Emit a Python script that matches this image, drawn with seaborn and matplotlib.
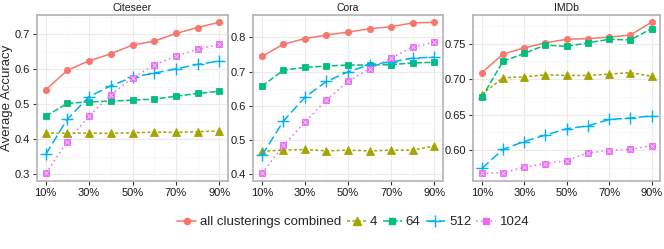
'''
Faceted accuracy curves per dataset, ggplot-ish look
'''
import matplotlib
matplotlib.use('Agg')
import matplotlib.pyplot as plt
from matplotlib.ticker import MultipleLocator, FormatStrFormatter
from matplotlib.lines import Line2D
import seaborn as sns
import pandas as pd

fractions = [10, 20, 30, 40, 50, 60, 70, 80, 90]
series_names = ['all clusterings combined', '4', '64', '512', '1024']
datasets = ['Citeseer', 'Cora', 'IMDb']

citeseer_all = [0.541, 0.597, 0.624, 0.644, 0.669, 0.680, 0.702, 0.719, 0.734]
citeseer_4 = [0.418, 0.418, 0.418, 0.417, 0.419, 0.421, 0.420, 0.422, 0.424]
citeseer_64 = [0.466, 0.503, 0.507, 0.509, 0.512, 0.515, 0.523, 0.531, 0.537]
citeseer_512 = [0.357, 0.458, 0.522, 0.553, 0.577, 0.589, 0.601, 0.614, 0.623]
citeseer_1024 = [0.303, 0.394, 0.467, 0.527, 0.575, 0.612, 0.637, 0.657, 0.671]

cora_all = [0.744, 0.780, 0.796, 0.807, 0.815, 0.825, 0.831, 0.842, 0.844]
cora_4 = [0.467, 0.470, 0.472, 0.468, 0.470, 0.468, 0.470, 0.470, 0.482]
cora_64 = [0.657, 0.704, 0.712, 0.716, 0.719, 0.719, 0.720, 0.725, 0.727]
cora_512 = [0.455, 0.555, 0.625, 0.671, 0.699, 0.720, 0.728, 0.739, 0.742]
cora_1024 = [0.402, 0.484, 0.552, 0.617, 0.671, 0.708, 0.739, 0.772, 0.785]

imdb_all = [0.709, 0.735, 0.744, 0.751, 0.756, 0.757, 0.759, 0.762, 0.780]
imdb_4 = [0.678, 0.702, 0.703, 0.706, 0.705, 0.705, 0.707, 0.709, 0.704]
imdb_64 = [0.674, 0.725, 0.736, 0.748, 0.746, 0.751, 0.756, 0.755, 0.771]
imdb_512 = [0.574, 0.601, 0.612, 0.621, 0.630, 0.634, 0.643, 0.645, 0.648]
imdb_1024 = [0.567, 0.568, 0.5755, 0.581, 0.585, 0.596, 0.599, 0.601, 0.606]

values = {
    'Citeseer': [citeseer_all, citeseer_4, citeseer_64, citeseer_512, citeseer_1024],
    'Cora': [cora_all, cora_4, cora_64, cora_512, cora_1024],
    'IMDb': [imdb_all, imdb_4, imdb_64, imdb_512, imdb_1024],
}

rows = []
for ds in datasets:
    for name, vals in zip(series_names, values[ds]):
        for f, v in zip(fractions, vals):
            rows.append({'dataset': ds, 'series': name, 'fraction': f, 'acc': v})
df = pd.DataFrame(rows)

colors = ['#F8766D', '#A3A500', '#00BF7D', '#00B0F6', '#E76BF3']
palette = dict(zip(series_names, colors))
markers = dict(zip(series_names, ['o', '^', 's', '+', 's']))
msizes = dict(zip(series_names, [4.5, 5.5, 5, 8, 5]))
dashes = dict(zip(series_names, ['-', (0, (2, 1.5)), (0, (4, 1.5)), (0, (6, 2.5)), (0, (1, 2.2))]))

sns.set_theme(style='white')
plt.rcParams['font.family'] = ['Liberation Sans', 'DejaVu Sans']

fig = plt.figure(figsize=(6.64, 2.49), dpi=100)
lefts = [37, 253.3, 473.3]
rights = [228, 442.7, 660]
bottom = 1 - 181 / 249
top = 1 - 14.7 / 249
yticks_step = {'Citeseer': 0.1, 'Cora': 0.1, 'IMDb': 0.05}
yfmt = {'Citeseer': '%.1f', 'Cora': '%.1f', 'IMDb': '%.2f'}

for i, ds in enumerate(datasets):
    ax = fig.add_axes([lefts[i] / 664, bottom, (rights[i] - lefts[i]) / 664, top - bottom])
    sub = df[df['dataset'] == ds]
    for name in series_names:
        s = sub[sub['series'] == name]
        sns.lineplot(data=s, x='fraction', y='acc', color=palette[name],
                     marker=markers[name], linestyle=dashes[name], ax=ax,
                     linewidth=1.1, markersize=msizes[name],
                     markeredgewidth=1.0 if markers[name] == '+' else 0.6,
                     markeredgecolor=palette[name])
    # cross inside the 1024 squares
    pink = sub[sub['series'] == '1024']
    sns.scatterplot(data=pink, x='fraction', y='acc', marker='x', s=9,
                    color='white', linewidth=0.6, ax=ax, zorder=5, alpha=0.7)
    ax.set_xlim(6, 94)
    ax.set_xticks([10, 30, 50, 70, 90])
    ax.set_xticklabels(['10%', '30%', '50%', '70%', '90%'])
    ax.xaxis.set_minor_locator(MultipleLocator(10))
    ax.yaxis.set_major_locator(MultipleLocator(yticks_step[ds]))
    ax.yaxis.set_minor_locator(MultipleLocator(yticks_step[ds] / 2))
    ax.yaxis.set_major_formatter(FormatStrFormatter(yfmt[ds]))
    ax.grid(which='major', color='#EBEBEB', linewidth=0.8)
    ax.grid(which='minor', color='#F5F5F5', linewidth=0.5)
    ax.set_axisbelow(True)
    for sp in ax.spines.values():
        sp.set_color('#B3B3B3')
        sp.set_linewidth(1.2)
    ax.tick_params(axis='both', which='major', direction='out', length=3,
                   width=0.8, color='#333333', labelsize=8, labelcolor='#1A1A1A',
                   pad=2, left=True, bottom=True)
    ax.tick_params(which='minor', length=0)
    ax.set_xlabel('')
    ax.set_ylabel('Average Accuracy' if i == 0 else '', fontsize=9.5, labelpad=1.5)
    ax.set_title(ds, fontsize=7.5, pad=3, color='#1A1A1A')

handles = []
for name in series_names:
    h = Line2D([], [], color=palette[name], marker=markers[name],
               linestyle=dashes[name], linewidth=1.1, markersize=msizes[name])
    handles.append(h)
fig.legend(handles, series_names, loc='center', bbox_to_anchor=(0.532, 1 - 222 / 249),
           ncol=5, frameon=False, fontsize=9.5, handlelength=1.45,
           handletextpad=0.3, columnspacing=0.4)

fig.savefig('out.png', dpi=100)
plt.close(fig)
